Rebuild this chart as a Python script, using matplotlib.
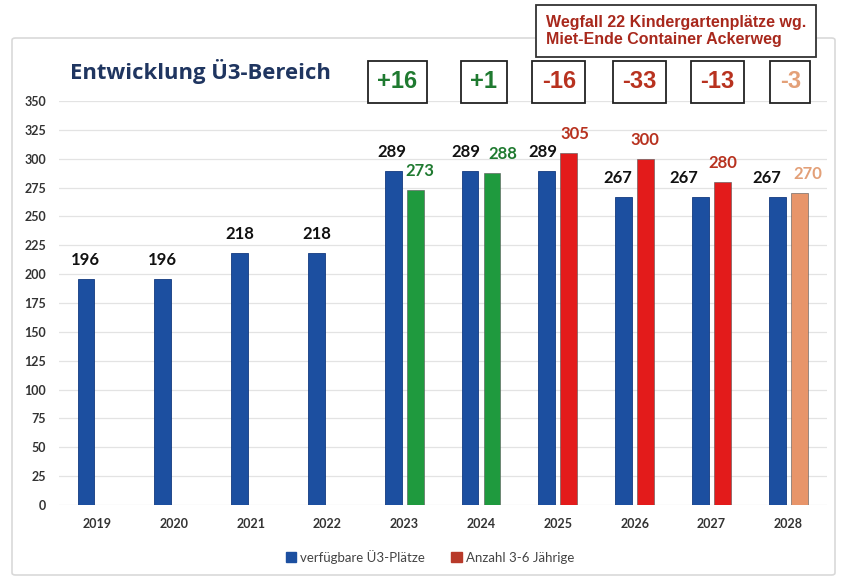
import matplotlib.pyplot as plt
import matplotlib.transforms as mtransforms
from matplotlib.patches import FancyBboxPatch, Rectangle
import numpy as np

years = ["2019", "2020", "2021", "2022", "2023", "2024", "2025", "2026", "2027", "2028"]
plaetze = [196, 196, 218, 218, 289, 289, 289, 267, 267, 267]
kinder = [None, None, None, None, 273, 288, 305, 300, 280, 270]
kinder_colors = [None, None, None, None, "#1f9a3e", "#1f9a3e", "#e31b1b", "#e31b1b", "#e31b1b", "#e8956a"]
kinder_label_colors = [None, None, None, None, "#1f7a30", "#1f7a30", "#b8321f", "#b8321f", "#b8321f", "#e3a078"]
diffs = ["+16", "+1", "-16", "-33", "-13", "-3"]
diff_colors = ["#1f7a30", "#1f7a30", "#b8321f", "#b8321f", "#b8321f", "#e3a078"]

# hand-placed label shifts in the original (pixels, horizontal)
blue_dx = [-1, 0, 0, 0, -1, -4, -4, -6, -17, -10]
second_dx = [0, 0, 0, 0, 5, 11, 6, -1, 0, 9]
diff_dx = [-7, 3, 1, 5, 6, 2]

BLUE = "#1c4fa0"
plt.rcParams["font.family"] = ["Lato", "DejaVu Sans"]

fig = plt.figure(figsize=(8.45, 5.79), dpi=100)
fig.patch.set_facecolor("white")

# outer frame of the chart
frame = FancyBboxPatch((12 / 845, 4 / 579), 823 / 845, 537 / 579,
                       boxstyle="round,pad=0,rounding_size=0.004",
                       transform=fig.transFigure, fill=False,
                       edgecolor="#d9d9d9", lw=1.2)
fig.add_artist(frame)

ax = fig.add_axes([58.6 / 845, 1 - 505 / 579, 768 / 845, 404 / 579])
x = np.arange(len(years))
w = 0.22
off = 0.143
px = 72 / 100  # pixels -> points

ax.bar(x - off, plaetze, width=w, color=BLUE, edgecolor="#123a80", lw=0.6, zorder=3)
for i, v in enumerate(plaetze):
    ax.annotate(str(v), (x[i] - off, v), xytext=(blue_dx[i] * px, 19 * px),
                textcoords="offset points", ha="center", va="center",
                fontsize=12, fontweight="bold", color="#111111")

for i, v in enumerate(kinder):
    if v is None:
        continue
    ax.bar(x[i] + off, v, width=w, color=kinder_colors[i], edgecolor="#555555", lw=0.4, zorder=3)
    ax.annotate(str(v), (x[i] + off, v), xytext=(second_dx[i] * px, 19 * px),
                textcoords="offset points", ha="center", va="center",
                fontsize=12, fontweight="bold", color=kinder_label_colors[i])

ax.set_xlim(-0.5, len(years) - 0.5)
ax.set_ylim(0, 350)
ax.set_yticks(np.arange(0, 351, 25))
ax.set_xticks(x)
ax.set_xticklabels(years)
ax.tick_params(axis="both", length=0, labelsize=9, labelcolor="#333333")
ax.tick_params(axis="x", pad=9)
ax.tick_params(axis="y", pad=9)
for lbl in ax.get_yticklabels() + ax.get_xticklabels():
    lbl.set_fontweight("bold")
ax.grid(axis="y", color="#e3e3e3", lw=0.9, zorder=0)
for s in ax.spines.values():
    s.set_visible(False)

fig.text(70 / 845, 1 - 72 / 579, "Entwicklung Ü3-Bereich", fontsize=15.8,
         fontweight="bold", color="#1f3560", va="center", ha="left",
         family=["Open Sans", "DejaVu Sans"])

# difference boxes above 2023-2028
trans = mtransforms.blended_transform_factory(ax.transData, fig.transFigure)
for j, d in enumerate(diffs):
    ax.annotate(d, (x[4 + j], 1 - 82 / 579), xycoords=trans,
                xytext=(diff_dx[j] * px, 0), textcoords="offset points",
                ha="center", va="center",
                fontsize=17, fontweight="bold", color=diff_colors[j],
                family=["Liberation Sans", "DejaVu Sans"],
                bbox=dict(boxstyle="square,pad=0.4", fc="white", ec="#222222", lw=1.3))

fig.text(676 / 845, 1 - 31 / 579, "Wegfall 22 Kindergartenplätze wg.\nMiet-Ende Container Ackerweg",
         ha="center", va="center", fontsize=11.5, fontweight="bold", color="#a8281c",
         family=["Liberation Sans", "DejaVu Sans"], linespacing=1.15, multialignment="left",
         bbox=dict(boxstyle="square,pad=0.62", fc="white", ec="#333333", lw=1.3))

# legend
h1 = Rectangle((0, 0), 1, 1, color=BLUE)
h2 = Rectangle((0, 0), 1, 1, color="#b83a2a")
fig.legend([h1, h2], ["verfügbare Ü3-Plätze", "Anzahl 3-6 Jährige"], loc="center",
           bbox_to_anchor=(430 / 845, 1 - 557 / 579), ncol=2, frameon=False,
           fontsize=9.5, handlelength=0.8, handleheight=0.8, handletextpad=0.3,
           columnspacing=2.0, labelcolor="#444444")

fig.savefig("out.png", dpi=100)
